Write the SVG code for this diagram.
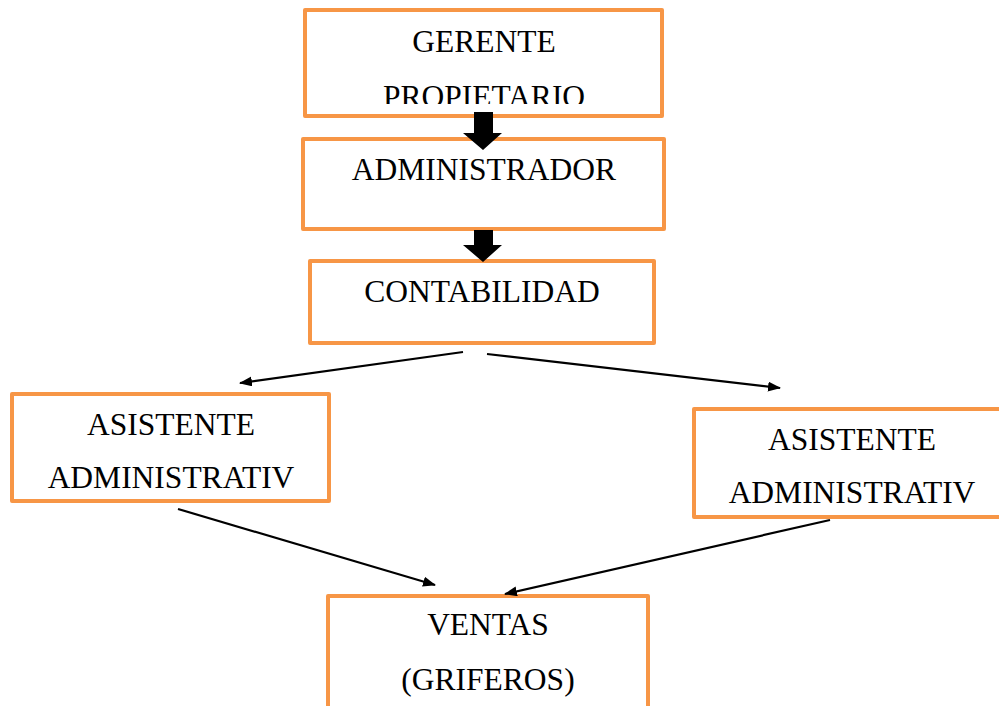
<svg xmlns="http://www.w3.org/2000/svg" width="999" height="706" viewBox="0 0 999 706">
<style>
.box{fill:#fff;stroke:#F79646;stroke-width:4;stroke-linejoin:round}
.t{font-family:"Liberation Serif","Times New Roman",serif;font-size:31.5px;fill:#000;text-anchor:middle}
.ln{stroke:#000;stroke-width:2.2;fill:none;marker-end:url(#ah)}
.big{fill:#000}
</style>
<defs>
<marker id="ah" viewBox="0 0 13 10" refX="12" refY="5" markerWidth="13" markerHeight="10" markerUnits="userSpaceOnUse" orient="auto">
<path d="M0,0 L13,5 L0,10 Z" fill="#000"/>
</marker>
<clipPath id="c1"><rect x="305" y="10" width="357" height="94"/></clipPath>
</defs>
<rect width="999" height="706" fill="#fff"/>
<g id="gerente">
<rect class="box" x="305" y="10" width="357" height="106"/>
<g clip-path="url(#c1)">
<text class="t" x="484" y="52">GERENTE</text>
<text class="t" x="484" y="107">PROPIETARIO</text>
</g>
</g>
<g id="administrador">
<rect class="box" x="303" y="139" width="361" height="90"/>
<text class="t" x="484" y="180">ADMINISTRADOR</text>
</g>
<g id="contabilidad">
<rect class="box" x="310" y="261" width="344" height="82"/>
<text class="t" x="482" y="302">CONTABILIDAD</text>
</g>
<g id="asistente1">
<rect class="box" x="12" y="394" width="317" height="107"/>
<text class="t" x="171" y="435">ASISTENTE</text>
<text class="t" x="171" y="488">ADMINISTRATIV</text>
</g>
<g id="asistente2">
<rect class="box" x="694" y="409" width="320" height="108"/>
<text class="t" x="852" y="450">ASISTENTE</text>
<text class="t" x="852" y="503">ADMINISTRATIV</text>
</g>
<g id="ventas">
<rect class="box" x="328" y="596" width="320" height="130"/>
<text class="t" x="488" y="635">VENTAS</text>
<text class="t" x="488" y="690">(GRIFEROS)</text>
</g>
<g id="connectors">
<path class="big" d="M474,112 H493 V133 H502 L483,150 L463,133 H474 Z"/>
<path class="big" d="M474,230 H493 V245 H502 L483,262 L463,245 H474 Z"/>
<line class="ln" x1="463" y1="352" x2="240" y2="383"/>
<line class="ln" x1="487" y1="354" x2="780" y2="388"/>
<line class="ln" x1="178" y1="509" x2="435" y2="585"/>
<line class="ln" x1="830" y1="520" x2="505" y2="594"/>
</g>
</svg>
